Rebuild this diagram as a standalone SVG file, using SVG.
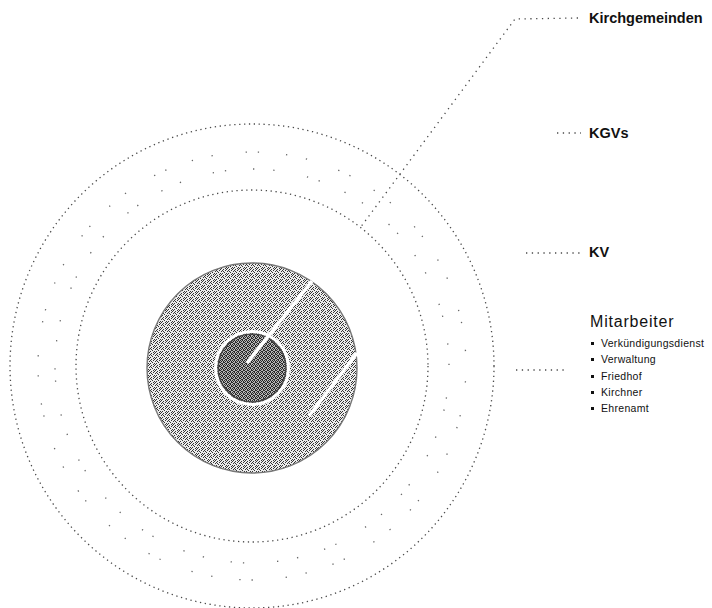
<svg xmlns="http://www.w3.org/2000/svg" width="712" height="608" viewBox="0 0 712 608">
  <style>
    .ring { fill: none; stroke: #4a4a4a; stroke-width: 1.3; stroke-dasharray: 1.3 3.6; }
    .sparse { fill: none; stroke: #666; stroke-width: 1.3; stroke-dasharray: 1.3 19 1.3 33 1.3 11 1.3 27; }
    .lead { fill: none; stroke: #4a4a4a; stroke-width: 1.3; stroke-dasharray: 1.3 4.5; }
    .cut { stroke: #fff; stroke-width: 3.5; stroke-linecap: butt; }
    .lbl { font-family: "Liberation Sans", Arial, sans-serif; fill: #111; }
    .big { font-size: 14.5px; font-weight: bold; }
    .head { font-size: 16px; letter-spacing: 0.8px; }
    .item { font-size: 10.5px; letter-spacing: 0.3px; }
    .bul { fill: #111; }
  </style>
  <defs>
    <pattern id="stippleLight" width="6" height="6" patternUnits="userSpaceOnUse">
      <rect width="6" height="6" fill="#ececec"/>
      <g fill="#333">
        <rect x="0" y="0" width="1" height="1"/>
        <rect x="3" y="0" width="1" height="1"/>
        <rect x="1" y="1" width="1" height="1"/>
        <rect x="5" y="1" width="1" height="1"/>
        <rect x="2" y="2" width="1" height="1"/>
        <rect x="0" y="3" width="1" height="1"/>
        <rect x="4" y="3" width="1" height="1"/>
        <rect x="3" y="4" width="1" height="1"/>
        <rect x="5" y="4" width="1" height="1"/>
        <rect x="1" y="5" width="1" height="1"/>
        <rect x="4" y="5" width="1" height="1"/>
      </g>
    </pattern>
    <pattern id="stippleDark" width="4" height="4" patternUnits="userSpaceOnUse">
      <rect width="4" height="4" fill="#b8b8b8"/>
      <g fill="#2a2a2a">
        <rect x="0" y="0" width="1" height="1"/>
        <rect x="2" y="0" width="1" height="1"/>
        <rect x="1" y="1" width="1" height="1"/>
        <rect x="3" y="1" width="1" height="1"/>
        <rect x="0" y="2" width="1" height="1"/>
        <rect x="3" y="2" width="1" height="1"/>
        <rect x="1" y="3" width="1" height="1"/>
        <rect x="2" y="3" width="1" height="1"/>
      </g>
    </pattern>
  </defs>
  <rect width="712" height="608" fill="#fff"/>

  <g id="ring-kirchgemeinden">
    <circle class="ring" cx="252" cy="366" r="242"/>
  </g>
  <g id="ring-kgvs">
    <circle class="sparse" cx="252" cy="366" r="214" stroke-dashoffset="5"/>
    <circle class="sparse" cx="252" cy="366" r="197" stroke-dashoffset="23"/>
  </g>
  <g id="ring-kv">
    <circle class="ring" cx="252" cy="366" r="176"/>
  </g>
  <g id="disk-mitarbeiter">
    <circle cx="252" cy="368" r="105" fill="url(#stippleLight)" stroke="#777" stroke-width="1.4"/>
  </g>
  <g id="core">
    <circle cx="252" cy="368" r="34" fill="url(#stippleDark)" stroke="#444" stroke-width="1.5"/>
    <circle cx="252" cy="368" r="36.5" fill="none" stroke="#fff" stroke-width="3"/>
  </g>
  <g id="cuts">
    <line class="cut" x1="247" y1="363" x2="312" y2="281"/>
    <line class="cut" x1="357" y1="353" x2="309" y2="416"/>
  </g>

  <g id="connectors">
    <polyline class="lead" points="578,18 515,19 360,228"/>
    <line class="lead" x1="557" y1="133" x2="581" y2="133"/>
    <line class="lead" x1="526" y1="253" x2="580" y2="253"/>
    <line class="lead" x1="516" y1="370" x2="564" y2="370"/>
  </g>

  <g id="label-kirchgemeinden">
    <text class="lbl big" x="589" y="23">Kirchgemeinden</text>
  </g>
  <g id="label-kgvs">
    <text class="lbl big" x="589" y="138">KGVs</text>
  </g>
  <g id="label-kv">
    <text class="lbl big" x="589" y="257">KV</text>
  </g>
  <g id="label-mitarbeiter">
    <text class="lbl head" x="590" y="327">Mitarbeiter</text>
    <rect class="bul" x="591" y="342" width="3" height="3"/>
    <rect class="bul" x="591" y="358" width="3" height="3"/>
    <rect class="bul" x="591" y="375" width="3" height="3"/>
    <rect class="bul" x="591" y="391" width="3" height="3"/>
    <rect class="bul" x="591" y="407" width="3" height="3"/>
    <text class="lbl item" x="601" y="347">Verkündigungsdienst</text>
    <text class="lbl item" x="601" y="363">Verwaltung</text>
    <text class="lbl item" x="601" y="380">Friedhof</text>
    <text class="lbl item" x="601" y="396">Kirchner</text>
    <text class="lbl item" x="601" y="412">Ehrenamt</text>
  </g>
</svg>
